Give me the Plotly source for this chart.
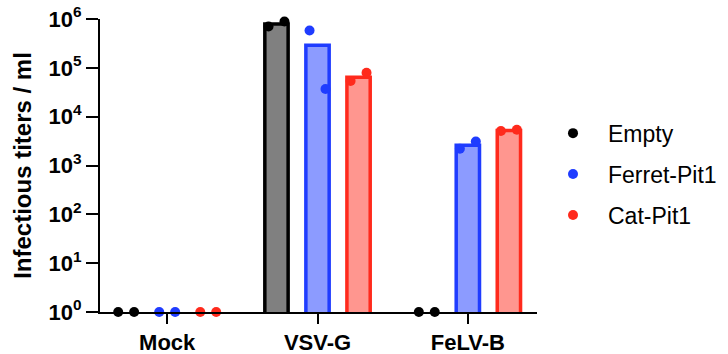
import plotly.graph_objects as go

categories = ["Mock", "VSV-G", "FeLV-B"]
series = ["Empty", "Ferret-Pit1", "Cat-Pit1"]
ytick_exps = [0, 1, 2, 3, 4, 5, 6]

# bar heights (means) per category
empty_mean = [1, 7.9e5, 1]
ferret_mean = [1, 2.9e5, 2.6e3]
cat_mean = [1, 6.4e4, 5.2e3]

# replicate points per category
empty_pts = [[1, 1], [7.0e5, 8.9e5], [1, 1]]
ferret_pts = [[1, 1], [5.8e5, 3.7e4], [2.2e3, 3.1e3]]
cat_pts = [[1, 1], [5.4e4, 7.9e4], [5.1e3, 5.4e3]]

means = [empty_mean, ferret_mean, cat_mean]
points = [empty_pts, ferret_pts, cat_pts]
edge_colors = ["#000000", "#1f3cff", "#ff2a1c"]
fill_colors = ["#808080", "#8c9bff", "#ff968f"]
group_offsets = [-0.273, 0.0, 0.273]
jitter = [-0.053, 0.053]
baseline = 1

fig = go.Figure()

for s in range(3):
    xs = [i + group_offsets[s] for i in range(len(categories))]
    ys = [v if v > baseline else None for v in means[s]]
    fig.add_trace(go.Bar(
        x=xs, y=ys, width=0.155, showlegend=False, hoverinfo="skip",
        marker=dict(color=fill_colors[s], line=dict(color=edge_colors[s], width=3.5)),
    ))

for s in range(3):
    px, py = [], []
    for i in range(len(categories)):
        for j, v in enumerate(points[s][i]):
            px.append(i + group_offsets[s] + jitter[j])
            py.append(v)
    fig.add_trace(go.Scatter(
        x=px, y=py, mode="markers", name=series[s], legendgroup=series[s],
        marker=dict(color=edge_colors[s], size=10),
        cliponaxis=False,
    ))

font_family = "Liberation Sans, Arial, sans-serif"

fig.update_layout(
    width=728, height=354,
    margin=dict(l=100, r=191, t=19, b=42),
    plot_bgcolor="white", paper_bgcolor="white",
    barmode="overlay",
    font=dict(family=font_family, color="black"),
    legend=dict(
        xref="container", yref="container",
        x=0.739, xanchor="left", y=0.6845, yanchor="top",
        font=dict(size=23, family=font_family, color="black"),
        itemwidth=60, tracegroupgap=8, traceorder="grouped",
        bgcolor="rgba(0,0,0,0)",
    ),
)

fig.update_xaxes(
    range=[-0.447, 2.46], automargin=False,
    tickvals=list(range(len(categories))), ticktext=categories,
    tickfont=dict(size=22, weight="bold", family=font_family),
    ticks="outside", ticklen=10, tickwidth=2, tickcolor="black",
    showline=True, linewidth=2, linecolor="black",
    showgrid=False, zeroline=False,
)

fig.update_yaxes(
    type="log", range=[0, 6], automargin=False,
    tickvals=[10 ** e for e in ytick_exps],
    ticktext=[f"10<sup>{e}</sup>" for e in ytick_exps],
    tickfont=dict(size=22, weight="bold", family=font_family),
    ticks="outside", ticklen=12, tickwidth=2, tickcolor="black",
    showline=True, linewidth=2, linecolor="black",
    showgrid=False, zeroline=False,
    title=dict(text="Infectious titers / ml", font=dict(size=24, weight="bold", family=font_family), standoff=10),
)

fig.write_html("out.html", config={"displayModeBar": False},
               post_script="document.body.style.margin='0';")
